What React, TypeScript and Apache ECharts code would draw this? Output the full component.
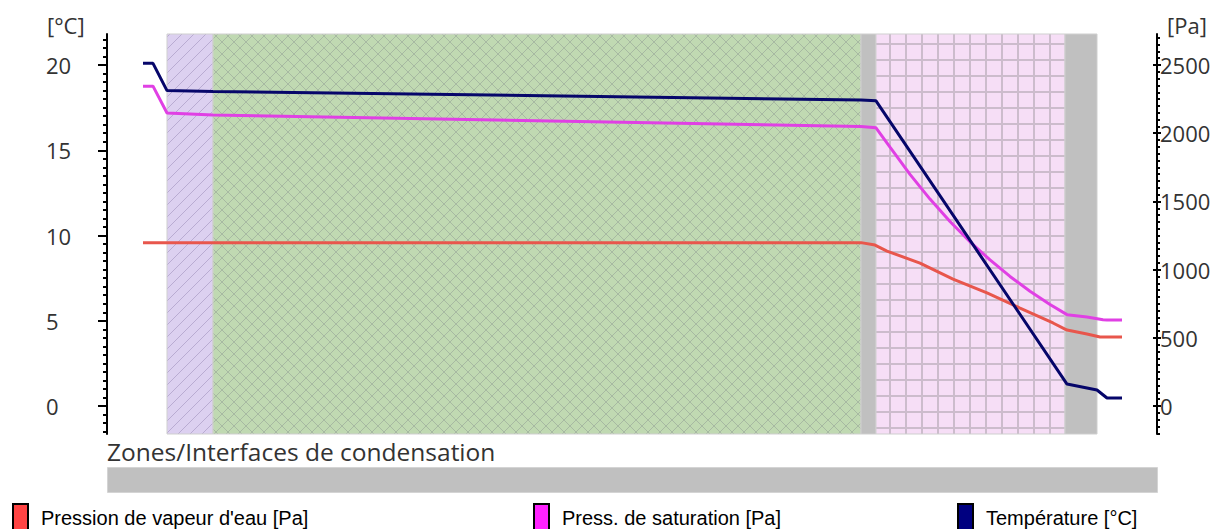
import React, { useEffect, useRef } from "react";
import * as echarts from "echarts";

// Wall layers, positions along the wall section (arbitrary units)
const layerStart = [60, 106, 754, 769, 958];
const layerEnd = [106, 754, 769, 958, 990];
const layerKind = ["diag", "cross", "grey", "grid", "grey"];

// Temperature [°C]
const tempX = [36, 46, 60, 106, 754, 769, 960, 980, 990, 1000, 1015];
const tempValues = [20.1, 20.1, 18.5, 18.45, 17.95, 17.9, 1.29, 1.06, 0.94, 0.47, 0.47];

// Saturation pressure [Pa]
const satX = [36, 46, 60, 106, 754, 769, 783, 803, 823, 843, 863, 883, 903, 923, 943, 960, 980, 996, 1000, 1015];
const satValues = [2345, 2345, 2148, 2134, 2050, 2040, 1898, 1698, 1517, 1353, 1204, 1071, 950, 842, 745, 670, 652, 632, 630, 630];

// Vapour pressure [Pa]
const vapX = [36, 754, 768, 780, 813, 846, 880, 913, 946, 960, 980, 993, 1015];
const vapValues = [1198, 1198, 1180, 1136, 1048, 931, 829, 718, 609, 557, 528, 506, 506];

const tempTicks = [0, 5, 10, 15, 20];
const paTicks = [0, 500, 1000, 1500, 2000, 2500];

const seriesNames = ["Pression de vapeur d'eau [Pa]", "Press. de saturation [Pa]", "Température [°C]"];
const legendColors = ["#ff4444", "#ff22ff", "#000080"];
const lineColors = ["#e8564c", "#e040e4", "#06066a"];

function zip(xs: number[], ys: number[]) {
  return xs.map((x, i) => [x, ys[i]]);
}

function makePattern(kind: string): any {
  if (kind === "grey") return "#c0c0c0";
  const c = document.createElement("canvas");
  const ctx = c.getContext("2d")!;
  if (kind === "diag") {
    c.width = 12; c.height = 12;
    ctx.fillStyle = "#dcd0f0"; ctx.fillRect(0, 0, 12, 12);
    ctx.strokeStyle = "#b9abd2"; ctx.lineWidth = 1;
    ctx.beginPath();
    ctx.moveTo(-2, 14); ctx.lineTo(14, -2);
    ctx.moveTo(-2, 2); ctx.lineTo(2, -2);
    ctx.moveTo(10, 14); ctx.lineTo(14, 10);
    ctx.stroke();
  } else if (kind === "cross") {
    c.width = 12; c.height = 12;
    ctx.fillStyle = "#c0d9b2"; ctx.fillRect(0, 0, 12, 12);
    ctx.strokeStyle = "#a7b9a2"; ctx.lineWidth = 1;
    ctx.beginPath();
    ctx.moveTo(-2, 14); ctx.lineTo(14, -2);
    ctx.moveTo(-2, -2); ctx.lineTo(14, 14);
    ctx.stroke();
  } else {
    c.width = 16; c.height = 16;
    ctx.fillStyle = "#f6def6"; ctx.fillRect(0, 0, 16, 16);
    ctx.fillStyle = "#ccbccc";
    ctx.fillRect(9, 0, 2, 16);
    ctx.fillRect(0, 11, 16, 2);
  }
  return { image: c, repeat: "repeat", imageWidth: c.width, imageHeight: c.height };
}

export default function App() {
  const ref = useRef<HTMLDivElement>(null);
  useEffect(() => {
    const chart = echarts.init(ref.current!, null, { renderer: "svg" });
    const tempMinor: number[] = [];
    for (let v = -1.5; v <= 21.5; v += 0.5) tempMinor.push(v);
    const paMinor: number[] = [];
    for (let v = -200; v <= 2700; v += 50) paMinor.push(v);

    const labelFont = { fontFamily: "Open Sans", fontSize: 22, color: "#333" };
    const plain = (v: number) => String(v);
    const tMin = -1.64, tMax = 21.82, pMin = -205, pMax = 2727.5;

    const legendBase = (i: number, left: number) => ({
      data: [{ name: seriesNames[i], icon: "rect", itemStyle: { color: legendColors[i], borderColor: "#000", borderWidth: 2 } }],
      left, top: 503, itemWidth: 15, itemHeight: 27, padding: 0, selectedMode: false,
      textStyle: { fontFamily: "Liberation Sans", fontSize: 20, color: "#000", padding: [2, 0, 0, 8] },
    });

    const option: any = {
      animation: false,
      backgroundColor: "#fff",
      grid: { left: 107, right: 67, top: 34, bottom: 95 },
      xAxis: { type: "value", min: 0, max: 1050, show: false },
      yAxis: [
        {
          type: "value", position: "left", min: tMin, max: tMax,
          axisLine: { show: true, lineStyle: { color: "#000", width: 2 } },
          axisTick: { show: true, customValues: tempTicks, length: 9, lineStyle: { color: "#000", width: 2 } },
          axisLabel: { show: true, customValues: tempTicks, formatter: plain, align: "left", margin: 61, padding: [6, 0, 0, 0], ...labelFont },
          splitLine: { show: false },
        },
        {
          type: "value", position: "right", min: pMin, max: pMax,
          axisLine: { show: true, lineStyle: { color: "#000", width: 2 } },
          axisTick: { show: true, customValues: paTicks, length: 4, lineStyle: { color: "#000", width: 2 } },
          axisLabel: { show: true, customValues: paTicks, formatter: plain, margin: 3, padding: [6, 0, 0, 0], ...labelFont },
          splitLine: { show: false },
        },
        {
          type: "value", position: "left", min: tMin, max: tMax,
          axisLine: { show: false },
          axisTick: { show: true, customValues: tempMinor, length: 4, lineStyle: { color: "#000", width: 2 } },
          axisLabel: { show: false }, splitLine: { show: false },
        },
        {
          type: "value", position: "right", min: pMin, max: pMax,
          axisLine: { show: false },
          axisTick: { show: true, customValues: paMinor, length: 3, lineStyle: { color: "#000", width: 2 } },
          axisLabel: { show: false }, splitLine: { show: false },
        },
        {
          type: "value", position: "right", min: pMin, max: pMax,
          axisLine: { show: false },
          axisTick: { show: true, inside: true, customValues: paTicks, length: 4, lineStyle: { color: "#000", width: 2 } },
          axisLabel: { show: false }, splitLine: { show: false },
        },
      ],
      legend: [legendBase(0, 12), legendBase(1, 533), legendBase(2, 957)],
      graphic: [
        { type: "text", left: 47, top: 14, style: { text: "[°C]", font: "22px 'Open Sans'", fill: "#333" } },
        { type: "text", left: 1167, top: 14, style: { text: "[Pa]", font: "22px 'Open Sans'", fill: "#333" } },
        { type: "text", x: 107, y: 451, style: { text: "Zones/Interfaces de condensation", font: "24.5px 'Open Sans'", fill: "#333", verticalAlign: "middle" } },
        { type: "rect", left: 107, top: 467, shape: { width: 1050, height: 25 }, style: { fill: "#c0c0c0", stroke: "#d4d4d4", lineWidth: 1 } },
      ],
      series: [
        {
          name: "layers", type: "line", data: [], yAxisIndex: 0, silent: true,
          markArea: {
            silent: true,
            emphasis: { disabled: true },
            data: layerStart.map((s, i) => [
              { xAxis: s, itemStyle: { color: makePattern(layerKind[i]), borderColor: "#cfcfcf", borderWidth: 1 } },
              { xAxis: layerEnd[i] },
            ]),
          },
        },
        {
          name: seriesNames[0], type: "line", yAxisIndex: 1, data: zip(vapX, vapValues), showSymbol: false, z: 3,
          itemStyle: { color: legendColors[0] }, lineStyle: { color: lineColors[0], width: 3 },
        },
        {
          name: seriesNames[1], type: "line", yAxisIndex: 1, data: zip(satX, satValues), showSymbol: false, z: 4,
          itemStyle: { color: legendColors[1] }, lineStyle: { color: lineColors[1], width: 3 },
        },
        {
          name: seriesNames[2], type: "line", yAxisIndex: 0, data: zip(tempX, tempValues), showSymbol: false, z: 5,
          itemStyle: { color: legendColors[2] }, lineStyle: { color: lineColors[2], width: 3 },
        },
      ],
    };
    chart.setOption(option);
    return () => chart.dispose();
  }, []);
  return <div ref={ref} style={{ position: "fixed", left: 0, top: 0, width: 1224, height: 529, background: "#fff" }} />;
}
